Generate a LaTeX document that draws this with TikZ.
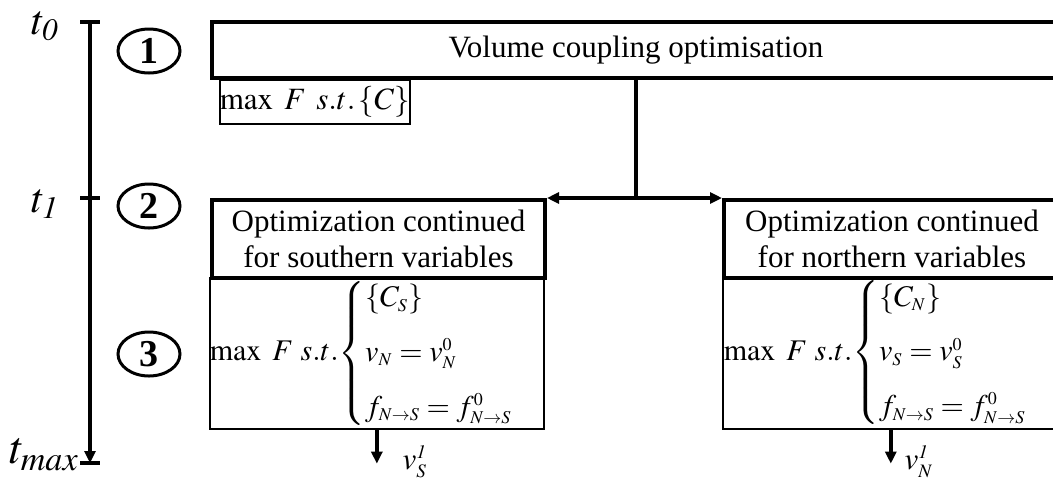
\documentclass[tikz,border=0pt]{standalone}
\usepackage{amsmath}
\usepackage{mathptmx}
\usepackage{fontspec}
\setmainfont{Liberation Serif}
\usetikzlibrary{arrows.meta,shapes.geometric}
\DeclareMathSizes{15}{15}{9}{7}
\DeclareMathSizes{15.5}{15.5}{9.5}{7}

\begin{document}
\begin{tikzpicture}[x=0.5pt,y=-0.5pt,>={Triangle[length=6pt,width=5.5pt]},
  boxtext/.style={font=\fontsize{15.5}{18}\selectfont},
  thickbox/.style={draw,line width=2pt,inner sep=0pt,align=center,boxtext},
  thinbox/.style={draw,line width=0.8pt,inner sep=0pt,boxtext},
  stepnum/.style={ellipse,draw,line width=1.5pt,minimum width=31pt,minimum height=22pt,
    inner sep=0pt,font=\fontsize{19}{21}\selectfont\bfseries},
  tlabel/.style={inner sep=0pt,font=\fontsize{21}{24}\selectfont},
  link/.style={line width=2pt}]
  \useasboundingbox (0,0) rectangle (1053,483);

  % time axis
  \coordinate (t0) at (90,22);
  \coordinate (t1) at (90,198);
  \coordinate (tmax) at (90,463);
  \draw[link,->] (t0) -- (tmax);
  \draw[link] ([xshift=-5pt]t0) -- ([xshift=5pt]t0);
  \draw[link] ([xshift=-5pt]t1) -- ([xshift=5pt]t1);
  \draw[link] ([xshift=-5pt]tmax) -- ([xshift=5pt]tmax);
  \node[tlabel] (lt0) at (45,26) {$t_{\mathit{0}}$};
  \node[tlabel] (lt1) at (45,204) {$t_{\mathit{1}}$};
  \node[tlabel,font=\fontsize{23}{25}\selectfont] (ltmax) at (44,455) {$t_{\mathit{max}}$};

  % steps
  \node[stepnum] (s1) at (149,51) {1};
  \node[stepnum] (s2) at (149,206) {2};
  \node[stepnum] (s3) at (149,354) {3};

  % boxes
  \node[thickbox,anchor=north west,minimum width=424pt,minimum height=28pt] (coupling) at (210,20)
    {Volume coupling optimisation};
  \node[thinbox,anchor=north west,minimum width=95pt,minimum height=22pt] (pb) at (219,79)
    {$\max\ F\;\, s.t.\left\{C\right\}$};
  \node[thickbox,anchor=north west,minimum width=166.5pt,minimum height=39pt] (south) at (210,198)
    {Optimization continued\\for southern variables};
  \node[thickbox,anchor=north west,minimum width=168pt,minimum height=39pt] (north) at (722,198)
    {Optimization continued\\for northern variables};
  \node[thinbox,anchor=north west,minimum width=166pt,minimum height=75.5pt,
    font=\fontsize{15}{17}\selectfont] (southpb) at (209,277)
    {$\thickmuskip=4mu\max\ F\ s.t.\!\begin{cases}\left\{C_S\right\}\\[7pt] v_N=v_N^0\\[7pt] f_{N\to S}=f_{N\to S}^0\end{cases}$};
  \node[thinbox,anchor=north west,minimum width=168pt,minimum height=76pt,
    font=\fontsize{15}{17}\selectfont] (northpb) at (722,276)
    {$\thickmuskip=4mu\max\ F\ s.t.\!\begin{cases}\left\{C_N\right\}\\[7pt] v_S=v_S^0\\[7pt] f_{N\to S}=f_{N\to S}^0\end{cases}$};

  % connectors
  \coordinate (split) at (coupling.south |- south.north);
  \draw[link] (coupling.south) -- (split);
  \draw[link,->] (split) -- (south.north east);
  \draw[link,->] (split) -- (north.north west);
  \coordinate (sout) at ([yshift=-17pt]southpb.south);
  \coordinate (nout) at ([yshift=-17pt]northpb.south);
  \draw[link,->] (southpb.south) -- (sout);
  \draw[link,->] (northpb.south) -- (nout);
  \node[boxtext,inner sep=0pt] (vs) at ([xshift=19pt,yshift=1pt]sout) {$v_S^{\mathit{1}}$};
  \node[boxtext,inner sep=0pt] (vn) at ([xshift=14pt,yshift=1pt]nout) {$v_N^{\mathit{1}}$};
\end{tikzpicture}
\end{document}
